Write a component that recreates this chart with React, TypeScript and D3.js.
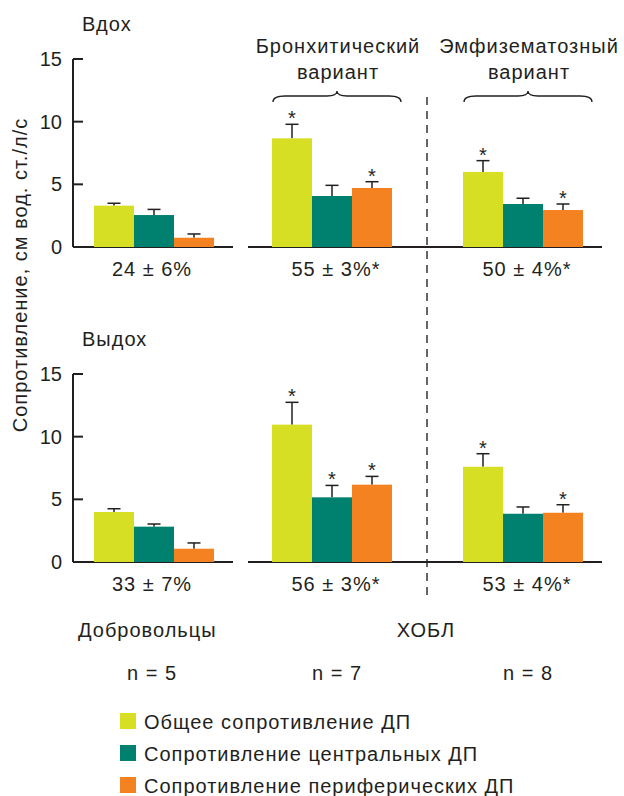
import React from "react"
import * as d3 from "d3"

const groups = ["Добровольцы", "Бронхитический", "Эмфизематозный"]
const seriesNames = [
  "Общее сопротивление ДП",
  "Сопротивление центральных ДП",
  "Сопротивление периферических ДП",
]
const colours = ["#d6df23", "#00806f", "#f58220"]

// вдох
const inhaleValues = [
  [3.3, 2.55, 0.74],
  [8.67, 4.07, 4.71],
  [5.99, 3.43, 2.95],
]
const inhaleErrors = [
  [3.49, 3.0, 1.04],
  [9.79, 4.92, 5.21],
  [6.89, 3.89, 3.43],
]
const inhaleStars = [
  [false, false, false],
  [true, false, true],
  [true, false, true],
]
const inhaleLabels = ["24 ± 6%", "55 ± 3%*", "50 ± 4%*"]

// выдох
const exhaleValues = [
  [3.99, 2.82, 1.06],
  [10.96, 5.16, 6.17],
  [7.6, 3.85, 3.93],
]
const exhaleErrors = [
  [4.25, 3.03, 1.52],
  [12.74, 6.11, 6.83],
  [8.64, 4.39, 4.57],
]
const exhaleStars = [
  [false, false, false],
  [true, true, true],
  [true, false, true],
]
const exhaleLabels = ["33 ± 7%", "56 ± 3%*", "53 ± 4%*"]

const yTicks = [0, 5, 10, 15]
const subtitles = [null, ["Бронхитический", "вариант"], ["Эмфизематозный", "вариант"]]
const nLabels = ["n = 5", "n = 7", "n = 8"]

const font = "'Liberation Sans', Arial, sans-serif"
const ink = "#231f20"

const groupX = d3.scaleOrdinal<string, number>().domain(groups).range([94, 272, 463])
const barX = d3.scaleBand<number>().domain([0, 1, 2]).range([0, 120]).padding(0)

function Panel({ title, values, errors, stars, labels, top, bottom }) {
  const y = d3.scaleLinear().domain([0, 15]).range([bottom, top])
  const axisX = 73
  return (
    <g>
      <text x={82} y={top - 28}>{title}</text>
      <line x1={axisX} x2={axisX} y1={y(15)} y2={y(0)} stroke={ink} strokeWidth={2} />
      {yTicks.map(t => (
        <g key={t}>
          <line x1={axisX} x2={axisX + 10} y1={y(t)} y2={y(t)} stroke={ink} strokeWidth={2} />
          <text x={62} y={y(t) + 7} textAnchor="end" letterSpacing={0}>{t}</text>
        </g>
      ))}
      <line x1={axisX} x2={233} y1={y(0)} y2={y(0)} stroke={ink} strokeWidth={2} />
      <line x1={248} x2={602} y1={y(0)} y2={y(0)} stroke={ink} strokeWidth={2} />
      {groups.map((g, gi) => {
        const gx = groupX(g)
        return (
          <g key={g}>
            {values[gi].map((v, i) => {
              const x0 = gx + barX(i)
              const cx = x0 + barX.bandwidth() / 2
              const e = errors[gi][i]
              return (
                <g key={i}>
                  <line x1={cx} x2={cx} y1={y(v)} y2={y(e)} stroke={ink} strokeWidth={1.5} />
                  <line x1={cx - 6.5} x2={cx + 6.5} y1={y(e)} y2={y(e)} stroke={ink} strokeWidth={1.5} />
                  <rect x={x0} y={y(v)} width={barX.bandwidth()} height={y(0) - y(v)} fill={colours[i]} />
                  {stars[gi][i] && (
                    <text x={cx} y={y(e) + 1} fontSize={20} textAnchor="middle" letterSpacing={0}>*</text>
                  )}
                </g>
              )
            })}
            <text x={gx + 60 + (gi > 0 ? 4 : -2)} y={y(0) + 29} textAnchor="middle">
              {labels[gi]}
            </text>
          </g>
        )
      })}
    </g>
  )
}

function Brace({ x0, x1, y }) {
  const xm = (x0 + x1) / 2
  const p = d3.path()
  p.moveTo(x0, y + 6)
  p.quadraticCurveTo(x0, y, x0 + 12, y)
  p.lineTo(xm - 10, y)
  p.quadraticCurveTo(xm, y, xm, y - 5)
  p.quadraticCurveTo(xm, y, xm + 10, y)
  p.lineTo(x1 - 12, y)
  p.quadraticCurveTo(x1, y, x1, y + 6)
  return <path d={p.toString()} fill="none" stroke={ink} strokeWidth={1.3} />
}

export default function App() {
  return (
    <svg width={624} height={796} style={{ position: "absolute", left: 0, top: 0 }}
      fontFamily={font} fontSize={20} letterSpacing={1} fill={ink}>
      <text transform="translate(27,275) rotate(-90)" textAnchor="middle">
        Сопротивление, см вод. ст./л/с
      </text>
      {subtitles.map((s, gi) =>
        s ? (
          <g key={gi}>
            <text x={groupX(groups[gi]) + 66} y={53} textAnchor="middle">{s[0]}</text>
            <text x={groupX(groups[gi]) + 66} y={79} textAnchor="middle">{s[1]}</text>
            <Brace x0={groupX(groups[gi]) + 1} x1={groupX(groups[gi]) + 129} y={96} />
          </g>
        ) : null
      )}
      <line x1={427} x2={427} y1={97} y2={600} stroke="#666" strokeWidth={2} strokeDasharray="8,6" />
      <Panel title="Вдох" values={inhaleValues} errors={inhaleErrors} stars={inhaleStars}
        labels={inhaleLabels} top={59} bottom={247} />
      <Panel title="Выдох" values={exhaleValues} errors={exhaleErrors} stars={exhaleStars}
        labels={exhaleLabels} top={374} bottom={562} />
      <text x={78} y={637}>Добровольцы</text>
      <text x={426} y={637} textAnchor="middle">ХОБЛ</text>
      {nLabels.map((n, gi) => (
        <text key={n} x={groupX(groups[gi]) + 60 + (gi > 0 ? 5 : -2)} y={680}
          textAnchor="middle">{n}</text>
      ))}
      {seriesNames.map((name, i) => (
        <g key={name} transform={`translate(120,${713 + i * 32})`}>
          <rect width={16} height={16} fill={colours[i]} />
          <text x={24} y={16}>{name}</text>
        </g>
      ))}
    </svg>
  )
}
